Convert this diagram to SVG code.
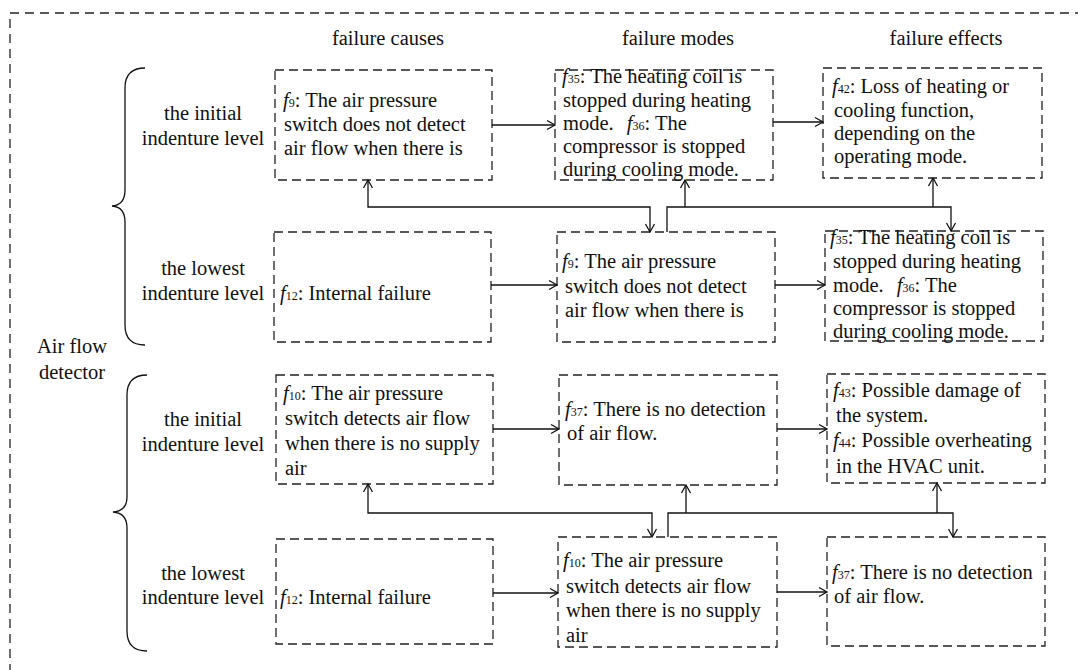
<svg xmlns="http://www.w3.org/2000/svg" width="1078" height="670" viewBox="0 0 1078 670">
<style>
text{font-family:"Liberation Serif","Times New Roman",serif;font-size:20.5px;fill:#111}
.c{text-anchor:middle}
.i{font-style:italic}
.s{font-size:12px}
.box{fill:none;stroke:#222;stroke-width:1.3;stroke-dasharray:9 5}
.ln{fill:none;stroke:#111;stroke-width:1.3}
</style>
<defs>
<marker id="a" markerUnits="userSpaceOnUse" markerWidth="12" markerHeight="12" refX="9" refY="5" orient="auto-start-reverse" viewBox="0 0 12 10">
<path d="M1,0.5 L9,5 L1,9.5" fill="none" stroke="#111" stroke-width="1.3"/>
</marker>
</defs>
<rect x="10" y="13" width="1100" height="700" fill="none" stroke="#222" stroke-width="1.3" stroke-dasharray="9 6"/>

<g id="headers">
<text class="c" x="388" y="45">failure causes</text>
<text class="c" x="678" y="45">failure modes</text>
<text class="c" x="946" y="45">failure effects</text>
</g>

<g id="air-flow-detector">
<text class="c" x="72" y="353">Air flow</text>
<text class="c" x="72" y="379">detector</text>
</g>

<g id="braces" class="ln">
<path class="ln" d="M145,68 Q125,68 125,88 L125,190 Q125,205 112,206 Q125,207 125,222 L125,325 Q125,345 145,345"/>
<path class="ln" d="M147,375 Q127,375 127,395 L127,497 Q127,511 113,512 Q127,513 127,528 L127,631 Q127,651 147,651"/>
</g>

<g id="levels">
<text class="c" x="203" y="120">the initial</text>
<text class="c" x="203" y="145">indenture level</text>
<text class="c" x="203" y="275">the lowest</text>
<text class="c" x="203" y="300">indenture level</text>
<text class="c" x="203" y="426">the initial</text>
<text class="c" x="203" y="451">indenture level</text>
<text class="c" x="203" y="580">the lowest</text>
<text class="c" x="203" y="604">indenture level</text>
</g>

<g id="n1">
<rect class="box" x="275" y="70" width="217" height="110"/>
<text x="283" y="107"><tspan class="i">f</tspan><tspan class="s">9</tspan>: The air pressure</text>
<text x="284" y="131">switch does not detect</text>
<text x="284" y="155">air flow when there is</text>
</g>
<g id="n2">
<rect class="box" x="555" y="70" width="218" height="110"/>
<text x="562" y="83"><tspan class="i">f</tspan><tspan class="s">35</tspan>: The heating coil is</text>
<text x="563" y="107">stopped during heating</text>
<text x="563" y="130">mode. <tspan dx="8" class="i">f</tspan><tspan class="s">36</tspan>: The</text>
<text x="563" y="153">compressor is stopped</text>
<text x="563" y="176">during cooling mode.</text>
</g>
<g id="n3">
<rect class="box" x="823" y="68" width="219" height="110"/>
<text x="832" y="93"><tspan class="i">f</tspan><tspan class="s">42</tspan>: Loss of heating or</text>
<text x="834" y="117">cooling function,</text>
<text x="834" y="140">depending on the</text>
<text x="834" y="163">operating mode.</text>
</g>
<g id="n4">
<rect class="box" x="274" y="232" width="217" height="110"/>
<text x="280" y="300"><tspan class="i">f</tspan><tspan class="s">12</tspan>: Internal failure</text>
</g>
<g id="n5">
<rect class="box" x="557" y="232" width="218" height="110"/>
<text x="562" y="268"><tspan class="i">f</tspan><tspan class="s">9</tspan>: The air pressure</text>
<text x="565" y="293">switch does not detect</text>
<text x="565" y="317">air flow when there is</text>
</g>
<g id="n6">
<rect class="box" x="825" y="231" width="218" height="110"/>
<text x="830" y="244"><tspan class="i">f</tspan><tspan class="s">35</tspan>: The heating coil is</text>
<text x="833" y="268">stopped during heating</text>
<text x="833" y="292">mode. <tspan dx="8" class="i">f</tspan><tspan class="s">36</tspan>: The</text>
<text x="833" y="315">compressor is stopped</text>
<text x="833" y="338">during cooling mode.</text>
</g>
<g id="n7">
<rect class="box" x="276" y="375" width="217" height="109"/>
<text x="283" y="400"><tspan class="i">f</tspan><tspan class="s">10</tspan>: The air pressure</text>
<text x="285" y="425">switch detects air flow</text>
<text x="285" y="450">when there is no supply</text>
<text x="285" y="475">air</text>
</g>
<g id="n8">
<rect class="box" x="559" y="375" width="218" height="110"/>
<text x="565" y="416"><tspan class="i">f</tspan><tspan class="s">37</tspan>: There is no detection</text>
<text x="567" y="440">of air flow.</text>
</g>
<g id="n9">
<rect class="box" x="827" y="374" width="218" height="109"/>
<text x="833" y="397"><tspan class="i">f</tspan><tspan class="s">43</tspan>: Possible damage of</text>
<text x="836" y="422">the system.</text>
<text x="833" y="447"><tspan class="i">f</tspan><tspan class="s">44</tspan>: Possible overheating</text>
<text x="836" y="473">in the HVAC unit.</text>
</g>
<g id="n10">
<rect class="box" x="276" y="539" width="217" height="105"/>
<text x="280" y="604"><tspan class="i">f</tspan><tspan class="s">12</tspan>: Internal failure</text>
</g>
<g id="n11">
<rect class="box" x="558" y="537" width="219" height="110"/>
<text x="563" y="567"><tspan class="i">f</tspan><tspan class="s">10</tspan>: The air pressure</text>
<text x="566" y="593">switch detects air flow</text>
<text x="566" y="617">when there is no supply</text>
<text x="566" y="642">air</text>
</g>
<g id="n12">
<rect class="box" x="827" y="537" width="218" height="109"/>
<text x="832" y="579"><tspan class="i">f</tspan><tspan class="s">37</tspan>: There is no detection</text>
<text x="834" y="603">of air flow.</text>
</g>

<g id="connectors">
<path class="ln" d="M492,125 H555" marker-end="url(#a)"/>
<path class="ln" d="M773,122 H823" marker-end="url(#a)"/>
<path class="ln" d="M491,285 H557" marker-end="url(#a)"/>
<path class="ln" d="M775,285 H825" marker-end="url(#a)"/>
<path class="ln" d="M493,429 H559" marker-end="url(#a)"/>
<path class="ln" d="M777,429 H827" marker-end="url(#a)"/>
<path class="ln" d="M493,593 H558" marker-end="url(#a)"/>
<path class="ln" d="M777,592 H827" marker-end="url(#a)"/>

<path class="ln" d="M368,180 V207 H650 V232" marker-start="url(#a)" marker-end="url(#a)"/>
<path class="ln" d="M667,232 V207 H951 V231" marker-end="url(#a)"/>
<path class="ln" d="M685,207 V180" marker-end="url(#a)"/>
<path class="ln" d="M933,207 V178" marker-end="url(#a)"/>

<path class="ln" d="M368,484 V513 H652 V537" marker-start="url(#a)" marker-end="url(#a)"/>
<path class="ln" d="M668,537 V513 H953 V537" marker-end="url(#a)"/>
<path class="ln" d="M686,513 V485" marker-end="url(#a)"/>
<path class="ln" d="M937,513 V483" marker-end="url(#a)"/>
</g>
</svg>
